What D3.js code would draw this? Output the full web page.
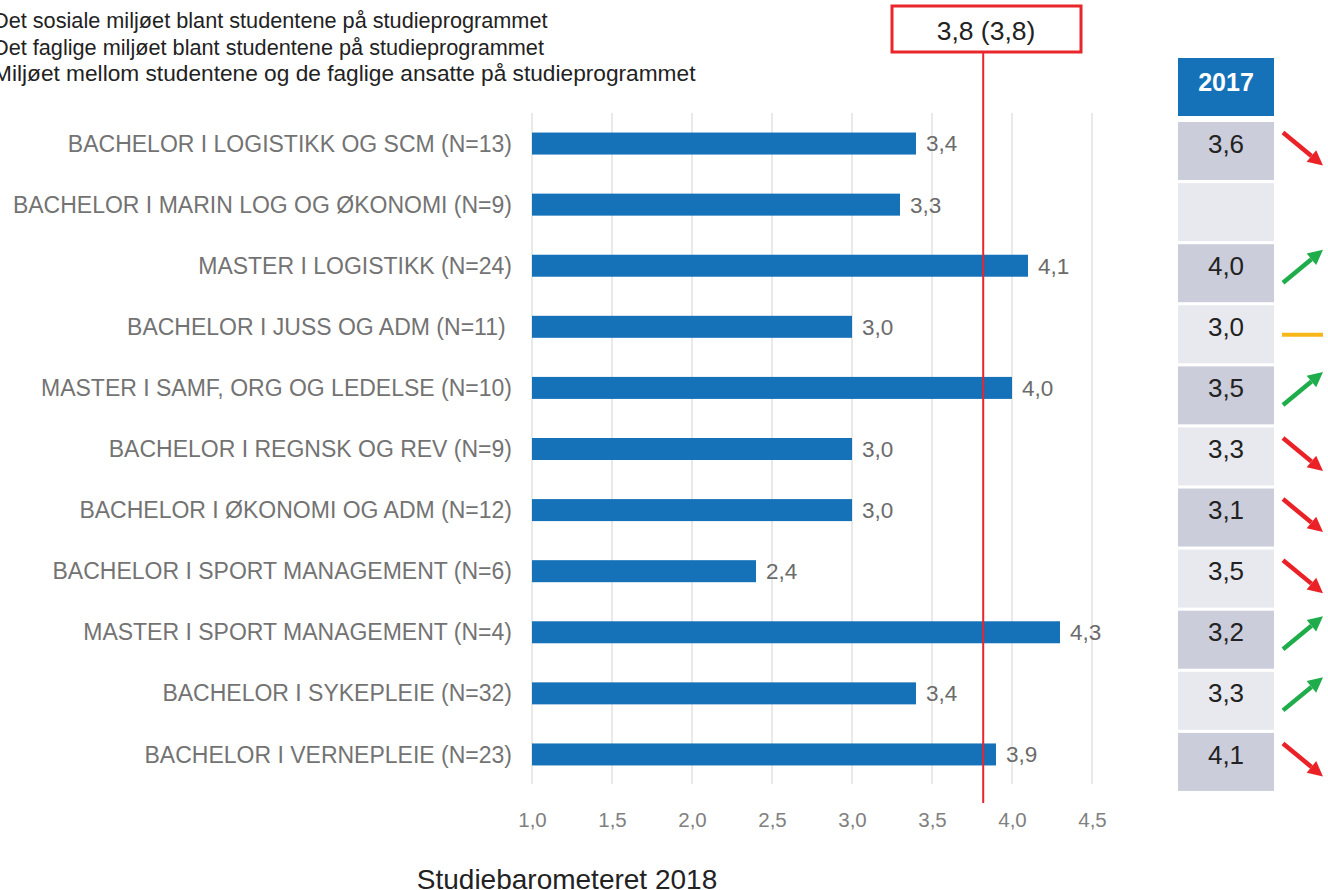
<!DOCTYPE html>
<html><head><meta charset="utf-8">
<script src="https://cdn.jsdelivr.net/npm/d3@7"></script>
<style>
html,body{margin:0;padding:0;background:#fff;overflow:hidden}
svg{display:block;font-family:"Liberation Sans",Arial,sans-serif}
</style></head>
<body>
<svg id="chart" width="1328" height="890"></svg>
<script>
const legendLabels = [
  "Det sosiale miljøet blant studentene på studieprogrammet",
  "Det faglige miljøet blant studentene på studieprogrammet",
  "Miljøet mellom studentene og de faglige ansatte på studieprogrammet"
];
const categories = [
  "BACHELOR I LOGISTIKK OG SCM (N=13)",
  "BACHELOR I MARIN LOG OG ØKONOMI (N=9)",
  "MASTER I LOGISTIKK (N=24)",
  "BACHELOR I JUSS OG ADM (N=11) ",
  "MASTER I SAMF, ORG OG LEDELSE (N=10)",
  "BACHELOR I REGNSK OG REV (N=9)",
  "BACHELOR I ØKONOMI OG ADM (N=12)",
  "BACHELOR I SPORT MANAGEMENT (N=6)",
  "MASTER I SPORT MANAGEMENT (N=4)",
  "BACHELOR I SYKEPLEIE (N=32)",
  "BACHELOR I VERNEPLEIE (N=23)"
];
const values2018 = [3.4, 3.3, 4.1, 3.0, 4.0, 3.0, 3.0, 2.4, 4.3, 3.4, 3.9];
const values2017 = [3.6, null, 4.0, 3.0, 3.5, 3.3, 3.1, 3.5, 3.2, 3.3, 4.1];
const trends = ["down", null, "up", "flat", "up", "down", "down", "down", "up", "up", "down"];
const xTicks = [1.0, 1.5, 2.0, 2.5, 3.0, 3.5, 4.0, 4.5];
const averageValue = 3.82;
const averageLabel = "3,8 (3,8)";
const tableHeader = "2017";
const chartTitle = "Studiebarometeret 2018";

const fmt = v => d3.format(".1f")(v).replace(".", ",");
const svg = d3.select("#chart");

const x = d3.scaleLinear().domain([1, 4.5]).range([532, 1092]);
const y = d3.scaleBand().domain(categories).range([113, 785]);
const barH = 22;

// legend (cut at the left edge as in the source)
svg.append("g").selectAll("text").data(legendLabels).join("text")
  .attr("x", -7).attr("y", (d, i) => 28 + i * 26.5)
  .attr("font-size", (d, i) => i === 2 ? 22.7 : 21.7).attr("fill", "#222").text(d => d);

// gridlines
svg.append("g").selectAll("line").data(xTicks).join("line")
  .attr("x1", d => x(d)).attr("x2", d => x(d))
  .attr("y1", 113).attr("y2", 784)
  .attr("stroke", "#dedede").attr("stroke-width", 1.3);

// axis labels
const axis = d3.axisBottom(x).tickValues(xTicks).tickFormat(fmt).tickSize(0).tickPadding(0);
const ag = svg.append("g").attr("transform", "translate(0,812)").call(axis);
ag.select(".domain").remove();
ag.selectAll("text").attr("font-size", 20.5).attr("fill", "#808080")
  .attr("font-family", "Liberation Sans, Arial, sans-serif");

// bars
svg.append("g").selectAll("rect").data(categories).join("rect")
  .attr("x", x(1)).attr("y", d => y(d) + y.bandwidth() / 2 - barH / 2)
  .attr("width", (d, i) => x(values2018[i]) - x(1)).attr("height", barH)
  .attr("fill", "#1571b8");

// value labels
svg.append("g").selectAll("text").data(categories).join("text")
  .attr("x", (d, i) => x(values2018[i]) + 10)
  .attr("y", d => y(d) + y.bandwidth() / 2).attr("dy", "0.35em")
  .attr("font-size", 22.5).attr("fill", "#6b6b6b").text((d, i) => fmt(values2018[i]));

// category labels
svg.append("g").selectAll("text").data(categories).join("text")
  .attr("x", 512).attr("y", d => y(d) + y.bandwidth() / 2).attr("dy", "0.35em")
  .attr("text-anchor", "end").attr("font-size", 23).attr("fill", "#737373")
  .style("white-space", "pre").text(d => d);

// average line + box
svg.append("line").attr("x1", x(averageValue)).attr("x2", x(averageValue))
  .attr("y1", 53).attr("y2", 803).attr("stroke", "#e8262b").attr("stroke-width", 2);
svg.append("rect").attr("x", 892).attr("y", 6).attr("width", 189).attr("height", 46)
  .attr("fill", "#fff").attr("stroke", "#e8262b").attr("stroke-width", 3);
svg.append("text").attr("x", 986).attr("y", 31).attr("dy", "0.35em")
  .attr("text-anchor", "middle").attr("font-size", 26.5).attr("fill", "#222").text(averageLabel);

// table
const tx = 1178, tw = 96;
svg.append("rect").attr("x", tx).attr("y", 58).attr("width", tw).attr("height", 58).attr("fill", "#1571b8");
svg.append("text").attr("x", tx + tw / 2).attr("y", 82).attr("dy", "0.35em").attr("text-anchor", "middle")
  .attr("font-size", 25).attr("font-weight", "bold").attr("fill", "#fff").text(tableHeader);
svg.append("g").selectAll("rect").data(categories).join("rect")
  .attr("x", tx).attr("y", d => y(d) + 9).attr("width", tw).attr("height", 58)
  .attr("fill", (d, i) => i % 2 === 0 ? "#cbcdda" : "#e8e9ef");
svg.append("g").selectAll("text").data(categories).join("text")
  .attr("x", tx + tw / 2).attr("y", d => y(d) + y.bandwidth() / 2).attr("dy", "0.35em")
  .attr("text-anchor", "middle").attr("font-size", 26).attr("fill", "#222")
  .text((d, i) => values2017[i] == null ? "" : fmt(values2017[i]));

// trend arrows
const tcol = { up: "#1fad4b", down: "#ea2228", flat: "#f7b718" };
const ag2 = svg.append("g");
categories.forEach((c, i) => {
  const t = trends[i];
  if (!t) return;
  const cy = y(c) + y.bandwidth() / 2;
  if (t === "flat") {
    ag2.append("line").attr("x1", 1282).attr("x2", 1323).attr("y1", cy + 8).attr("y2", cy + 8)
      .attr("stroke", tcol.flat).attr("stroke-width", 4);
    return;
  }
  const x0 = 1283, x1 = 1323;
  const y0 = t === "up" ? cy + 17 : cy - 11;
  const y1 = t === "up" ? cy - 16 : cy + 22;
  const ang = Math.atan2(y1 - y0, x1 - x0);
  const hl = 15, hw = 7.5;
  const bx = x1 - hl * Math.cos(ang), by = y1 - hl * Math.sin(ang);
  ag2.append("line").attr("x1", x0).attr("y1", y0).attr("x2", bx).attr("y2", by)
    .attr("stroke", tcol[t]).attr("stroke-width", 4.5);
  const px = -Math.sin(ang), py = Math.cos(ang);
  ag2.append("polygon").attr("points", [
    [x1, y1], [bx + px * hw, by + py * hw], [bx - px * hw, by - py * hw]
  ].map(p => p.join(",")).join(" ")).attr("fill", tcol[t]);
});

// title
svg.append("text").attr("x", 567).attr("y", 889).attr("text-anchor", "middle")
  .attr("font-size", 28).attr("fill", "#222").text(chartTitle);
</script>
</body></html>
